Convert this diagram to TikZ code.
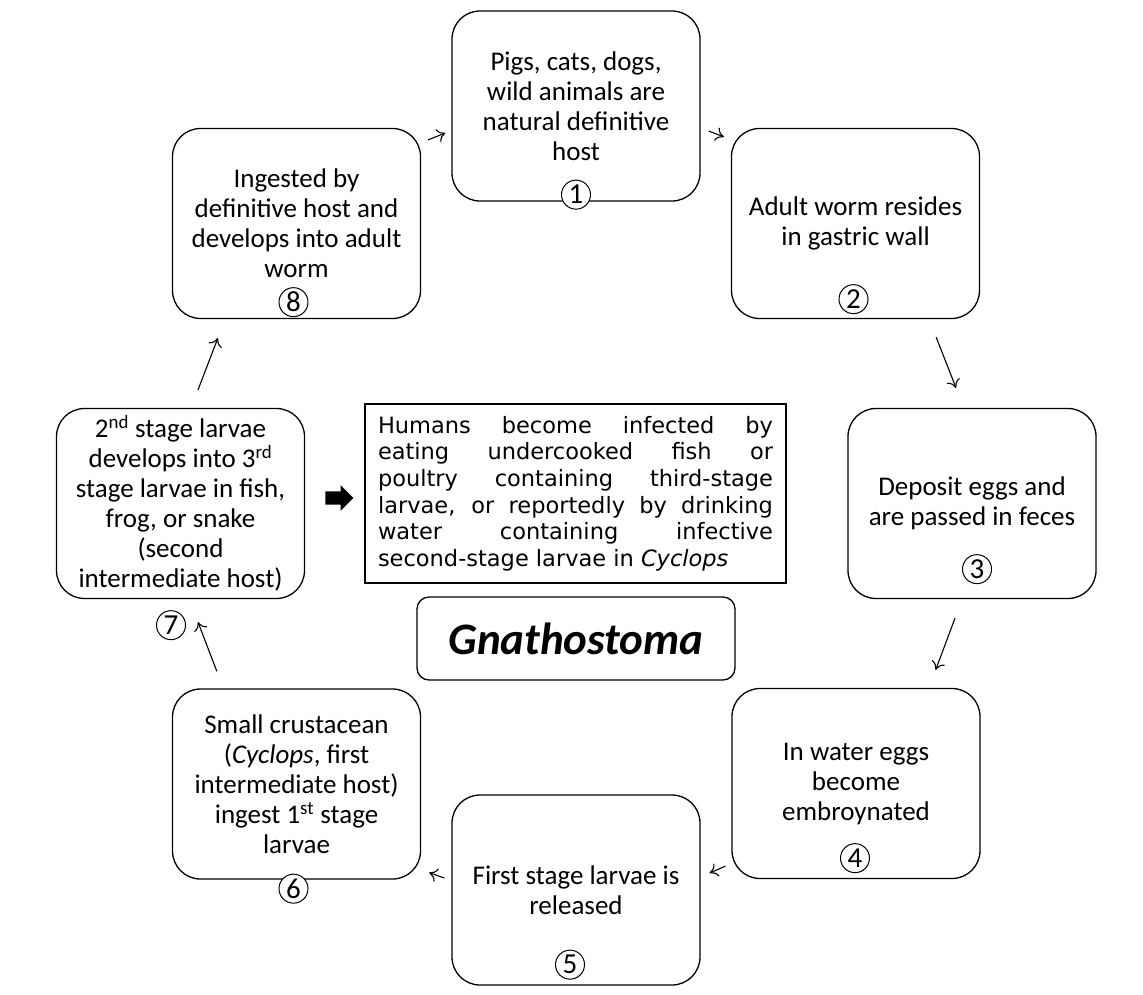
\documentclass[tikz,border=0pt]{standalone}
\usepackage{fontspec}
\setmainfont{Carlito}
\newfontfamily\verdanafont{DejaVu Sans}
\usetikzlibrary{arrows.meta,shapes.arrows,positioning}
\newcommand{\stagefont}{\fontsize{27}{30}\selectfont}
\newcommand{\numfont}{\fontsize{29}{29}\selectfont}
\tikzset{
	stage/.style={
		rectangle,
		rounded corners=28pt,
		draw,
		line width=1.3pt,
		minimum width=248pt,
		minimum height=190pt,
		inner sep=0pt,
		align=center,
		font=\stagefont,
	},
	num/.style={
		circle,
		draw,
		line width=1pt,
		fill=white,
		minimum size=29pt,
		inner sep=0pt,
		font=\numfont,
	},
	note/.style={
		rectangle,
		draw,
		line width=1.3pt,
		minimum width=421pt,
		minimum height=179pt,
		inner sep=0pt,
		align=left,
		font=\verdanafont\fontsize{22.5}{26.6}\selectfont,
	},
	title/.style={
		rectangle,
		rounded corners=12pt,
		draw,
		line width=1.3pt,
		minimum width=318pt,
		minimum height=83pt,
		font=\fontsize{45}{45}\selectfont\bfseries\itshape,
	},
	link/.style={
		-{To[length=8pt,width=14pt]},
		line width=1.1pt,
	},
}

\begin{document}
\begin{tikzpicture}[x=1pt,y=-1pt]
	\useasboundingbox (0,0) rectangle (1143,994);

	% life cycle stages
	\node [stage] (b1) at (576,106) {Pigs, cats, dogs,\\wild animals are\\natural definitive\\host};
	\node [stage] (b2) at (855.5,223.5) {Adult worm resides\\in gastric wall};
	\node [stage] (b3) at (972,503.5) {Deposit eggs and\\are passed in feces};
	\node [stage] (b4) at (856,783.5) {In water eggs\\become\\embroynated};
	\node [stage] (b5) at (576,890) {First stage larvae is\\released};
	\node [stage] (b6) at (296.5,784) {Small crustacean\\(\textit{Cyclops}, first\\intermediate host)\\ingest 1\textsuperscript{st} stage\\larvae};
	\node [stage] (b7) at (180.5,503.5) {2\textsuperscript{nd} stage larvae\\develops into 3\textsuperscript{rd}\\stage larvae in fish,\\frog, or snake\\(second\\intermediate host)};
	\node [stage] (b8) at (296.5,223.5) {Ingested by\\definitive host and\\develops into adult\\worm};

	% circled numbers
	\node [num] (n1) at ([shift={(0,-7)}]b1.south) {1};
	\node [num] (n2) at ([shift={(-2,-20)}]b2.south) {2};
	\node [num] (n3) at ([shift={(5,-30)}]b3.south) {3};
	\node [num] (n4) at ([shift={(-1,-21)}]b4.south) {4};
	\node [num] (n5) at ([shift={(-6,-21)}]b5.south) {5};
	\node [num] (n6) at ([shift={(-3,9)}]b6.south) {6};
	\node [num] (n7) at ([shift={(-9.5,26)}]b7.south) {7};
	\node [num] (n8) at ([shift={(-3,-17)}]b8.south) {8};

	% centre
	\node [note] (human) at (575.5,493.5) {%
		\makebox[395pt][s]{Humans become infected by}\\
		\makebox[395pt][s]{eating undercooked fish or}\\
		\makebox[395pt][s]{poultry containing third-stage}\\
		\makebox[395pt][s]{larvae, or reportedly by drinking}\\
		\makebox[395pt][s]{water containing infective}\\
		second-stage larvae in \textit{Cyclops}};
	\node [single arrow, fill=black, inner sep=6.5pt, minimum height=28pt,
	       single arrow head extend=6pt] (bigarrow) at (336,498) {};
	\node [title] (gnat) at (576,638.5) {Gnathostoma};

	\draw[link] ([shift={(7,12)}]b8.north east) -- ([shift={(-6,27)}]b1.west);
	\draw[link] ([shift={(8,25)}]b1.east) -- ([shift={(-7,9)}]b2.north west);
	\draw[link] ([shift={(-44,18)}]b2.south east) -- ([shift={(-16,-20)}]b3.north);
	\draw[link] ([shift={(-17,19)}]b3.south) -- ([shift={(-45,-18)}]b4.north east);
	\draw[link] ([shift={(-6,-13)}]b4.south west) -- ([shift={(9,-17)}]b5.east);
	\draw[link] ([shift={(-7,-12)}]b5.west) -- ([shift={(8,-7)}]b6.south east);
	\draw[link] ([shift={(45,-17)}]b6.north west) -- ([shift={(17.5,23)}]b7.south);
	\draw[link] ([shift={(17.5,-18)}]b7.north) -- ([shift={(46,19)}]b8.south west);
\end{tikzpicture}
\end{document}
